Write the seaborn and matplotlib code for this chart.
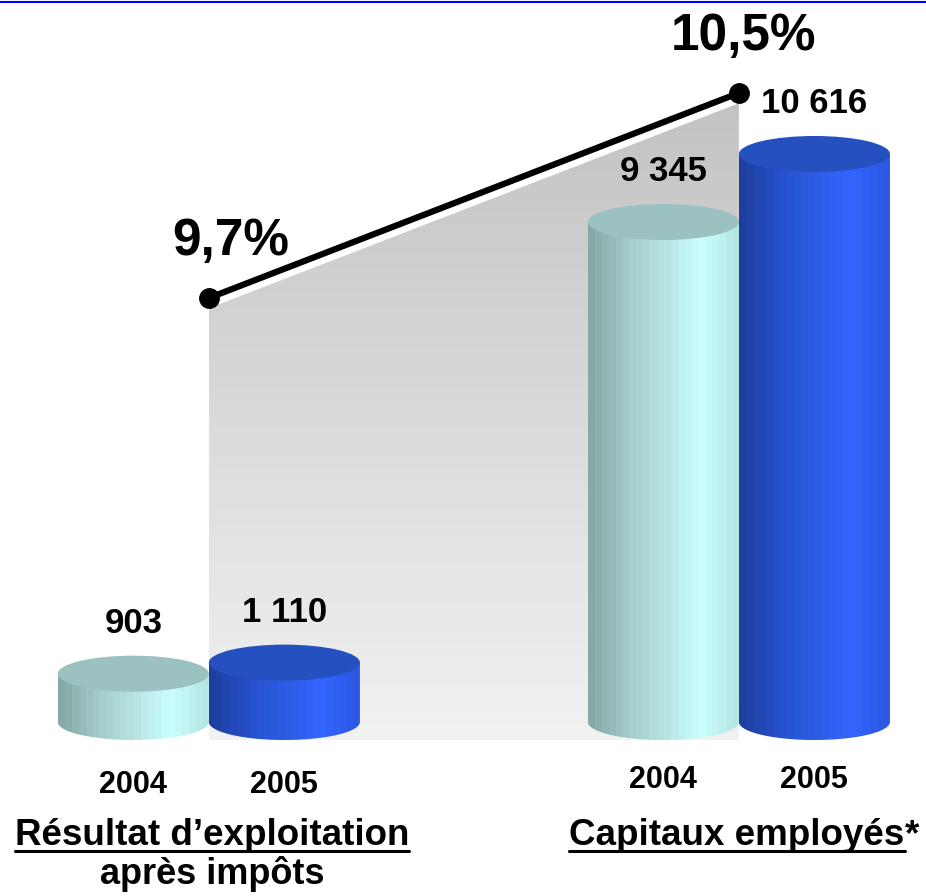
import numpy as np
import pandas as pd
import seaborn as sns
import matplotlib.pyplot as plt
from matplotlib.patches import Ellipse, Polygon
from matplotlib.colors import LinearSegmentedColormap
from matplotlib.lines import Line2D

# données
groupes = ['Résultat d’exploitation', 'Capitaux employés']
sous_titre = 'après impôts'
annees = ['2004', '2005']
resultat = [903, 1110]
capitaux = [9345, 10616]
roce = [9.7, 10.5]
etiquettes_valeurs = ['903', '1 110', '9 345', '10 616']
etiquettes_roce = ['9,7%', '10,5%']

sns.set_theme(style='white')
plt.rcParams['font.family'] = ['Liberation Sans', 'DejaVu Sans']
plt.rcParams['text.color'] = 'black'

df = pd.DataFrame({
    'groupe': np.repeat(groupes, 2),
    'annee': annees * 2,
    'valeur': resultat + capitaux,
})

fig = plt.figure(figsize=(9.26, 8.96), dpi=100)
ax = fig.add_axes([0, 0, 1, 1])
ax2 = ax.twinx()
ax.set_zorder(2)
ax2.set_zorder(1)
ax.patch.set_visible(False)

sns.barplot(data=df, x='groupe', y='valeur', hue='annee', width=0.57,
            errorbar=None, legend=False, ax=ax)

# couleurs des cylindres
cmaps = {
    '2004': LinearSegmentedColormap.from_list('c04', ['#86a9a7', '#a3cbc9', '#b6e3e1', '#ccffff', '#b3e6e4']),
    '2005': LinearSegmentedColormap.from_list('c05', ['#1f3f9f', '#2650cc', '#2d5ce3', '#3366ff', '#2b57e2']),
}
couleurs_haut = {'2004': '#9bc2c0', '2005': '#2550c0'}

ymin, ymax = -3252, 13494
xmin, xmax = -0.394, 1.353
eh = 36 * (ymax - ymin) / 896  # hauteur de l'ellipse

barres = sorted(ax.patches, key=lambda p: p.get_x())
ordre_annees = annees * 2
for i, (bar, an, lab) in enumerate(zip(barres, ordre_annees, etiquettes_valeurs)):
    bar.set_visible(False)
    x0, w, h = bar.get_x(), bar.get_width(), bar.get_height()
    cx = x0 + w / 2
    z = 3 + i * 2
    t = np.linspace(0, -np.pi, 40)
    pts = [(x0, h), (x0 + w, h)] + list(zip(cx + w / 2 * np.cos(t), eh / 2 * np.sin(t)))
    contour = Polygon(pts, closed=True, facecolor='none', edgecolor='none')
    ax.add_patch(contour)
    grad = np.linspace(0, 1, 22).reshape(1, -1)
    im = ax.imshow(grad, cmap=cmaps[an], extent=(x0, x0 + w, -eh / 2, h),
                   aspect='auto', interpolation='nearest', zorder=z)
    im.set_clip_path(contour)
    ax.add_patch(Ellipse((cx, h), w, eh, facecolor=couleurs_haut[an],
                         edgecolor='none', zorder=z + 1))
    ax.annotate(lab, xy=(cx, h), xytext=(0, 36), textcoords='offset points',
                ha='center', va='center', fontsize=25, fontweight='bold', zorder=20)
    ax.text(cx, 0.124 if i < 2 else 0.130, an,
            transform=ax.get_xaxis_transform(), ha='center', va='center',
            fontsize=22, fontweight='bold')

ax.set_xlim(xmin, xmax)
ax.set_ylim(ymin, ymax)

# zone grise + ligne du ROCE
x_roce = [0, 1]
ax2.set_ylim(7.366, 10.863)
bas = 7.975
haut = [v - 0.04 for v in roce]
zone = ax2.fill_between(x_roce, haut, bas, facecolor='none', edgecolor='none')
gris = LinearSegmentedColormap.from_list('gris', ['#f2f2f2', '#c3c3c3'])
img = ax2.imshow(np.linspace(0, 1, 256).reshape(-1, 1), cmap=gris, origin='lower',
                 extent=(0, 1, bas, max(haut)), aspect='auto', zorder=1)
img.set_clip_path(zone.get_paths()[0], transform=ax2.transData)
ax2.plot(x_roce, roce, color='black', lw=4.5, marker='o', markersize=14, zorder=3)
for xv, v, lab, dx in zip(x_roce, roce, etiquettes_roce, [16, 3]):
    ax2.annotate(lab, xy=(xv, v), xytext=(dx, 41), textcoords='offset points',
                 ha='center', va='center', fontsize=37, fontweight='bold')
ax2.set_xlim(xmin, xmax)
ax2.set_ylim(7.366, 10.863)

ax.axis('off')
ax2.axis('off')

# titres des groupes, soulignés
t1 = fig.text(212 / 926, 1 - 845 / 896, groupes[0], ha='center', va='baseline',
              fontsize=26.5, fontweight='bold')
fig.text(212 / 926, 1 - 884 / 896, sous_titre, ha='center', va='baseline',
         fontsize=26, fontweight='bold')
t2 = fig.text(737 / 926, 1 - 845 / 896, groupes[1], ha='center', va='baseline',
              fontsize=26.5, fontweight='bold')
ax.annotate('*', xy=(1, 1), xycoords=t2, ha='left', va='top',
            fontsize=26.5, fontweight='bold', annotation_clip=False)

fig.canvas.draw()
for t in (t1, t2):
    bb = t.get_window_extent()
    _, yb = fig.transFigure.transform(t.get_position())
    y = (yb - 6) / fig.bbox.height
    fig.add_artist(Line2D([bb.x0 / fig.bbox.width, bb.x1 / fig.bbox.width], [y, y],
                          color='black', lw=2.2, transform=fig.transFigure))

# filet bleu en haut
fig.add_artist(Line2D([0, 1], [0.998, 0.998], color='#0000ff', lw=1.5,
                      transform=fig.transFigure))

plt.savefig('out.png', dpi=100)
